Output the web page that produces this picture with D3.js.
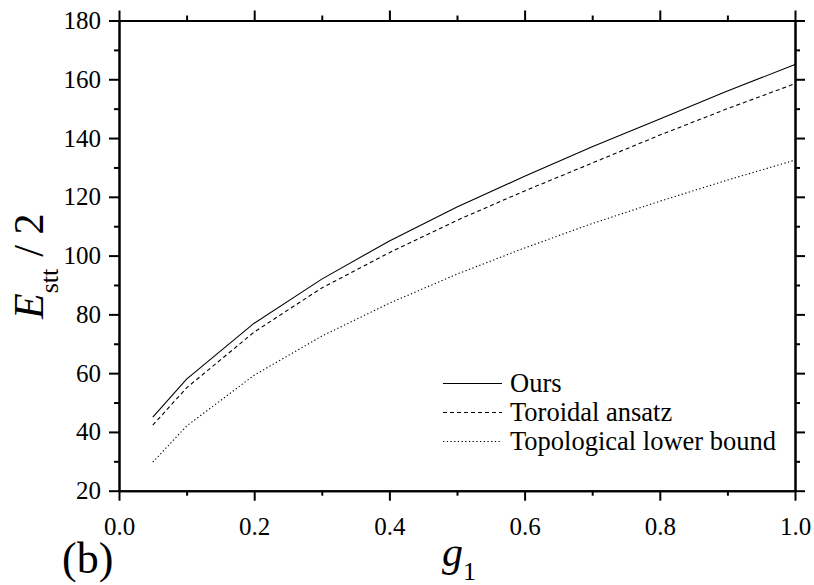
<!DOCTYPE html>
<html>
<head>
<meta charset="utf-8">
<script src="https://cdn.jsdelivr.net/npm/d3@7"></script>
<style>
  body { margin: 0; background: #fff; }
  svg, svg text { font-family: "Liberation Serif", "Times New Roman", Times, serif; }
  .axis path, .axis line { stroke: #000; stroke-width: 2; }
  .axis text { font-size: 25px; fill: #000; }
</style>
</head>
<body>
<script>
// values
var gValues = [0.05, 0.1, 0.2, 0.3, 0.4, 0.5, 0.6, 0.7, 0.8, 0.9, 1.0];
var ours = [45, 58, 77, 92, 105, 116.5, 127, 137, 146.5, 156, 165];
var toroidal = [42.3, 55, 74, 89, 101, 112, 122, 131.5, 141, 150, 158.5];
var topological = [29.7, 42, 59.3, 72.6, 83.8, 93.7, 102.6, 110.9, 118.5, 125.7, 132.5];

var seriesNames = ['Ours', 'Toroidal ansatz', 'Topological lower bound'];
var xTicks = [0.0, 0.2, 0.4, 0.6, 0.8, 1.0];
var xMinor = [0.1, 0.3, 0.5, 0.7, 0.9];
var yTicks = [20, 40, 60, 80, 100, 120, 140, 160, 180];
var yMinor = [30, 50, 70, 90, 110, 130, 150, 170];

var w = 814,
    h = 585;
var margin = {top: 20.5, right: 19, bottom: 94.3, left: 119};

var x = d3.scaleLinear()
    .domain([0, 1])
    .range([margin.left, w - margin.right]);

var y = d3.scaleLinear()
    .domain([20, 180])
    .range([h - margin.bottom, margin.top]);

var svg = d3.select('body').append('svg')
    .attr('width', w)
    .attr('height', h);

// axes: major + minor on all four sides, ticks pointing outward
function addAxis(axis, tx, ty, vals, size, fmt) {
  var a = axis.tickValues(vals)
      .tickSize(size)
      .tickSizeOuter(0)
      .tickPadding(8)
      .tickFormat(fmt || '');
  return svg.append('g')
      .attr('class', 'axis')
      .attr('transform', 'translate(' + [tx, ty] + ')')
      .call(a)
      .attr('font-family', null)
      .attr('font-size', null);
}

var x0 = x.range()[0], x1 = x.range()[1];
var y0 = y.range()[0], y1 = y.range()[1];

addAxis(d3.axisBottom(x), 0, y0, xTicks, 10, d3.format('.1f'))
    .selectAll('text').attr('dy', '1.05em');
addAxis(d3.axisBottom(x), 0, y0, xMinor, 5);
addAxis(d3.axisTop(x), 0, y1, xTicks, 10);
addAxis(d3.axisTop(x), 0, y1, xMinor, 5);

addAxis(d3.axisLeft(y), x0, 0, yTicks, 10, d3.format('d'));
addAxis(d3.axisLeft(y), x0, 0, yMinor, 5);
addAxis(d3.axisRight(y), x1, 0, yTicks, 10);
addAxis(d3.axisRight(y), x1, 0, yMinor, 5);

// lines
var line = d3.line()
    .x(function(d, i) { return x(gValues[i]); })
    .y(function(d) { return y(d); });

var dashes = [null, '4,3', '1.3,2.4'];
var data = [ours, toroidal, topological];

svg.selectAll('.series')
    .data(data)
    .enter().append('path')
    .attr('class', 'series')
    .attr('d', line)
    .style('fill', 'none')
    .style('stroke', '#000')
    .style('stroke-width', 1.1)
    .style('stroke-dasharray', function(d, i) { return dashes[i]; });

// legend
var legend = svg.append('g')
    .attr('transform', 'translate(443, 383.5)');

var items = legend.selectAll('g')
    .data(seriesNames)
    .enter().append('g')
    .attr('transform', function(d, i) { return 'translate(0,' + (i * 29) + ')'; });

items.append('line')
    .attr('x1', 0)
    .attr('x2', 59)
    .style('stroke', '#000')
    .style('stroke-width', 1.1)
    .style('stroke-dasharray', function(d, i) { return dashes[i]; });

items.append('text')
    .attr('x', 67)
    .attr('dy', '0.33em')
    .style('font-size', '26.5px')
    .text(function(d) { return d; });

// axis titles
var xt = svg.append('text')
    .attr('x', 442)
    .attr('y', 566)
    .style('font-size', '42px');
xt.append('tspan').style('font-style', 'italic').text('g');
xt.append('tspan').attr('dy', 14).style('font-size', '26px').text('1');

var yt = svg.append('text')
    .attr('transform', 'translate(43,319) rotate(-90)')
    .style('font-size', '42px');
yt.append('tspan').style('font-style', 'italic').text('E');
yt.append('tspan').attr('dy', 15).style('font-size', '26px').text('stt');
yt.append('tspan').attr('dy', -15).attr('dx', 12).text('/ 2');

svg.append('text')
    .attr('x', 62)
    .attr('y', 573)
    .style('font-size', '44px')
    .text('(b)');
</script>
</body>
</html>
